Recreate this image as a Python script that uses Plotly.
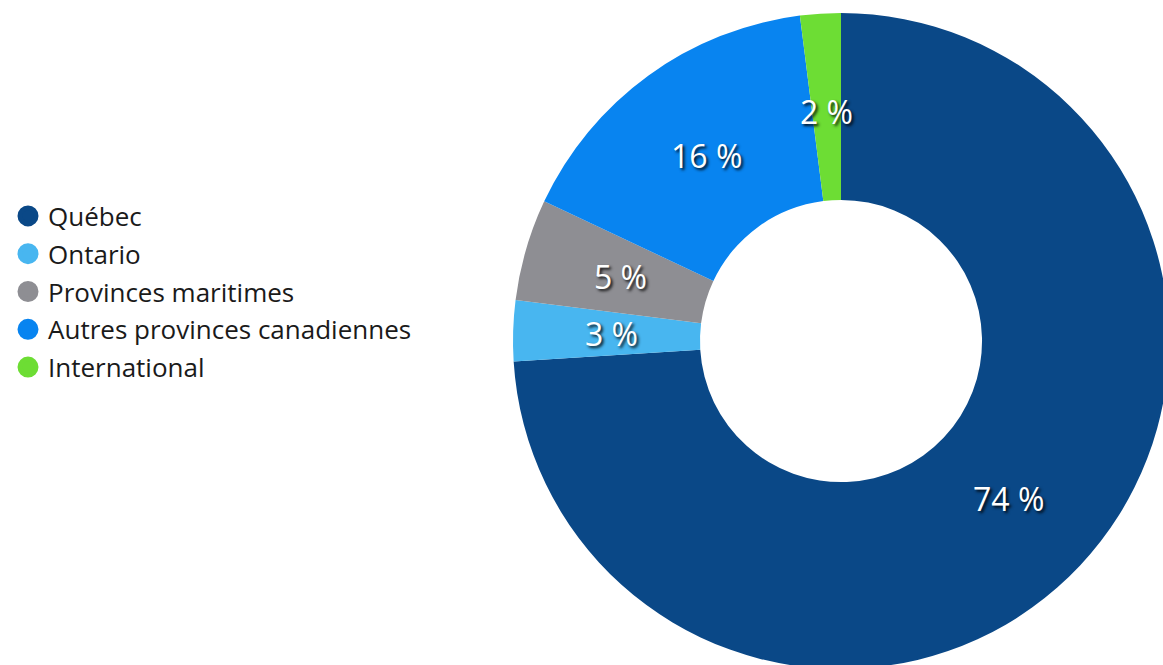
import math
import plotly.graph_objects as go

categories = ["Québec", "Ontario", "Provinces maritimes", "Autres provinces canadiennes", "International"]
values = [74, 3, 5, 16, 2]
colors = ["#0A4887", "#48B6F0", "#8E8E93", "#0884F0", "#6DDD34"]

# figure slightly larger than the window; page margin removed and overflow hidden
W, H = 1175, 680
cx, cy, R = 841, 341, 328
hole = 0.43
label_r = 0.70
FONT = "Open Sans"

fig = go.Figure()
fig.add_trace(go.Pie(
    labels=categories, values=values, marker=dict(colors=colors, line=dict(width=0)),
    sort=False, direction="clockwise", rotation=0, hole=hole,
    textinfo="none", showlegend=False, hoverinfo="label+percent",
    domain=dict(x=[(cx - R) / W, (cx + R) / W], y=[1 - (cy + R) / H, 1 - (cy - R) / H]),
))
for c, col in zip(categories, colors):
    fig.add_trace(go.Scatter(x=[None], y=[None], mode="markers", name=c, legendgroup=c,
                             marker=dict(symbol="circle", size=16, color=col,
                                         line=dict(width=5, color=col))))

# slice labels at mid-angle of each slice
total = sum(values)
cum = 0
for v in values:
    mid = (cum + v / 2) / total * 2 * math.pi
    cum += v
    px = cx + label_r * R * math.sin(mid)
    py = cy - label_r * R * math.cos(mid)
    fig.add_annotation(x=px / W, y=1 - py / H, xref="paper", yref="paper",
                       text=f"{v} %", showarrow=False, xanchor="center", yanchor="middle",
                       font=dict(family=FONT, size=32, color="white",
                                 shadow="2px 2px 3px rgba(0,0,0,0.9)"))

fig.update_layout(
    width=W, height=H, margin=dict(l=0, r=0, t=0, b=0),
    paper_bgcolor="white", plot_bgcolor="white",
    xaxis=dict(visible=False), yaxis=dict(visible=False),
    legend=dict(x=8 / W, xanchor="left", y=1 - 292 / H, yanchor="middle",
                font=dict(family=FONT, size=26, color="#1a1a1a"),
                tracegroupgap=1, itemsizing="trace", bgcolor="rgba(0,0,0,0)"),
)
fig.write_html("out.html", config={"displayModeBar": False},
               post_script="document.body.style.margin='0';document.body.style.overflow='hidden';"
                           "document.documentElement.style.overflow='hidden';")
